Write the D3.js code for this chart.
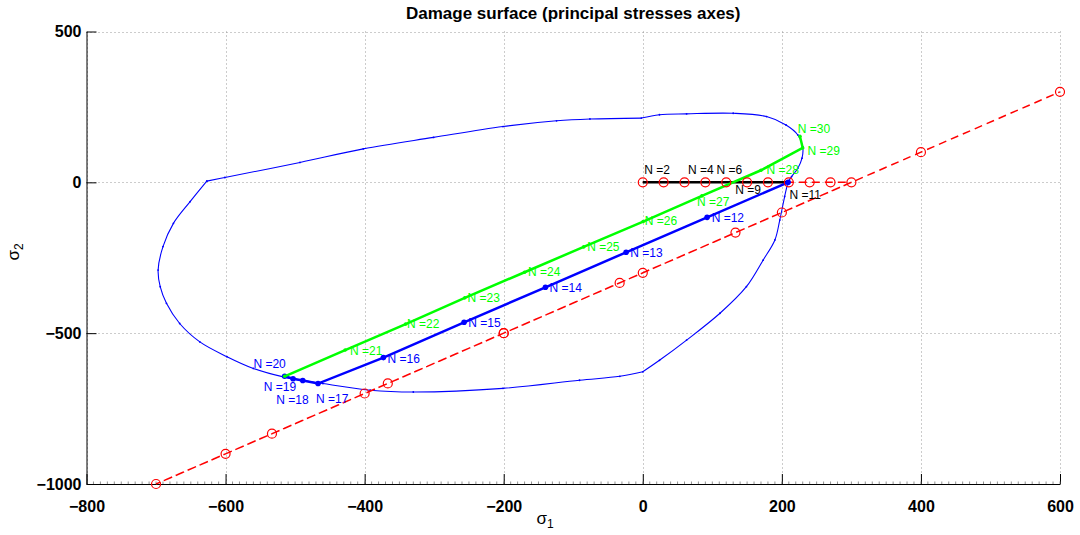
<!DOCTYPE html>
<html>
<meta charset='utf-8'>
<head>
<title>damage surface</title>
<script src='https://d3js.org/d3.v7.min.js'></script>
<style>
  body { margin: 0; background: #fff; }
  text { font-family: 'Liberation Sans', Arial, Helvetica, sans-serif; }
</style>
</head>
<body>
<div id='chart'></div>
<script>
// ---- data (principal stresses, sigma1 / sigma2) ----
var xTicks = [-800, -600, -400, -200, 0, 200, 400, 600]
var yTicks = [-1000, -500, 0, 500]

// damage surface
var surfS1 = [-627, -601, -493, -402, -301, -201, -124, -76, -2, 24, 63, 130, 178, 206, 223, 230, 229, 223, 214, 209,
              204, 197, 190, 173, 149, 111, 63, 24, 0, -33, -91, -201, -330, -392, -460, -517, -560, -598, -637,
              -666, -685, -694, -697, -690, -675, -651, -627]
var surfS2 = [4, 16, 66, 111, 149, 185, 204, 210, 213, 224, 227, 229, 218, 190, 157, 118, 80, 47, 19, 2,
              -47, -125, -191, -258, -346, -434, -523, -590, -628, -643, -656, -683, -695, -689, -667, -645, -617, -578, -529,
              -468, -401, -346, -291, -213, -136, -64, 4]
// kinks of the contour (indexes into the arrays above)
var surfKinks = [0, 8, 19, 28, 46]

// imposed loading path (red circles)
var loadS1 = [0, 30, 60, 90, 120, 150, 180, 210, 240, 270, 300, 133.3, -33.3, -200, -366.7, -533.3, -700,
              -600, -400, -200, 0, 200, 400, 600]
var loadS2 = [0, 0, 0, 0, 0, 0, 0, 0, 0, 0, 0, -166.7, -333.3, -500, -666.7, -833.3, -1000,
              -900, -700, -500, -300, -100, 100, 300]

// computed stress path, steps N=1..11 (black)
var blackS1 = [0, 30, 60, 90, 120, 150, 180, 209]
var blackS2 = [0, 0, 0, 0, 0, 0, 0, 0]
// steps N=11..20 (blue)
var blueS1 = [209, 92.5, -24, -140, -257, -373, -467, -489, -503, -515]
var blueS2 = [0, -116, -232, -348, -464, -581, -667, -657, -651, -643]
// steps N=20..30 (green)
var greenS1 = [-515, -428, -341, -256, -170, -85, 0.5, 85, 170, 230, 226]
var greenS2 = [-643, -556, -470, -383, -298, -214, -130, -45, 40, 114, 153]

// step labels
var labText = ['N =2', 'N =4', 'N =6', 'N =9', 'N =11',
               'N =12', 'N =13', 'N =14', 'N =15', 'N =16', 'N =17', 'N =18', 'N =19', 'N =20',
               'N =21', 'N =22', 'N =23', 'N =24', 'N =25', 'N =26', 'N =27', 'N =28', 'N =29', 'N =30']
var labS1 = [2, 65, 106, 133, 211,
             99, -18, -134, -251, -367, -470, -527, -545, -560,
             -421, -339, -252, -165, -80, 3, 78, 178, 237, 223]
var labS2 = [43, 43, 43, -25, -40,
             -116, -232, -348, -465, -586, -716, -722, -679, -602,
             -559, -470, -384, -298, -213, -127, -64, 41, 104, 179]
var labColor = ['k', 'k', 'k', 'k', 'k',
                'b', 'b', 'b', 'b', 'b', 'b', 'b', 'b', 'b',
                'g', 'g', 'g', 'g', 'g', 'g', 'g', 'g', 'g', 'g']

var colors = {k: '#000000', b: '#0000ff', g: '#00ff00', r: '#ff0000'}

function zip(a, b) { return a.map(function(v, i) { return [v, b[i]] }) }

// ---- layout ----
var W = 1080, H = 535
var margin = {top: 31.5, right: 20, bottom: 51, left: 86.5}

var svg = d3.select('#chart').append('svg')
  .attr('width', W).attr('height', H)

var x = d3.scaleLinear().domain([-800, 600]).range([margin.left, 1060])
var y = d3.scaleLinear().domain([-1000, 500]).range([H - margin.bottom, margin.top])

var x0 = x.range()[0], x1 = x.range()[1], y0 = y.range()[0], y1 = y.range()[1]

// grid (dotted)
var grid = svg.append('g').attr('stroke', '#999').attr('stroke-width', 1).attr('stroke-dasharray', '1,3')
grid.selectAll('.gx').data(xTicks).enter().append('line')
  .attr('x1', function(d) { return Math.round(x(d)) + 0.5 }).attr('x2', function(d) { return Math.round(x(d)) + 0.5 })
  .attr('y1', y1).attr('y2', y0)
grid.selectAll('.gy').data(yTicks).enter().append('line')
  .attr('y1', function(d) { return Math.round(y(d)) + 0.5 }).attr('y2', function(d) { return Math.round(y(d)) + 0.5 })
  .attr('x1', x0).attr('x2', x1)

// axes
var xAxis = svg.append('g')
  .attr('transform', 'translate(0,' + y0 + ')')
  .call(d3.axisBottom(x).tickValues(xTicks).tickSizeInner(-10).tickSizeOuter(0).tickPadding(17)
    .tickFormat(function(d) { return d < 0 ? '\u2212' + (-d) : d }))
xAxis.select('.domain').attr('stroke', '#000')
// small ruler ticks along bottom axis
xAxis.append('g').selectAll('line').data(d3.range(-800, 601, 10)).enter().append('line')
  .attr('x1', function(d) { return x(d) }).attr('x2', function(d) { return x(d) })
  .attr('y1', 0).attr('y2', -2.5).attr('stroke', '#777').attr('stroke-width', 0.8)

var yAxis = svg.append('g')
  .attr('transform', 'translate(' + x0 + ',0)')
  .call(d3.axisLeft(y).tickValues(yTicks).tickSizeInner(-10).tickSizeOuter(0).tickPadding(5)
    .tickFormat(function(d) { return d < 0 ? '\u2212' + (-d) : d }))
yAxis.select('.domain').attr('stroke', '#000')

svg.selectAll('.tick text')
  .attr('font-family', "'Liberation Sans', Arial, sans-serif")
  .attr('font-size', 16).attr('font-weight', 'bold').attr('fill', '#000')
svg.selectAll('.tick line').attr('stroke', '#000')

// clip to axes box
svg.append('clipPath').attr('id', 'box').append('rect')
  .attr('x', x0 - 6).attr('y', y1 - 6).attr('width', x1 - x0 + 12).attr('height', y0 - y1 + 12)
var plot = svg.append('g').attr('clip-path', 'url(#box)')

var line = d3.line().x(function(d) { return x(d[0]) }).y(function(d) { return y(d[1]) })
var smooth = d3.line().curve(d3.curveCatmullRom.alpha(0.5))
  .x(function(d) { return x(d[0]) }).y(function(d) { return y(d[1]) })

// damage surface, smooth between kinks
var surf = zip(surfS1, surfS2)
for (var k = 0; k < surfKinks.length - 1; k++) {
  plot.append('path').datum(surf.slice(surfKinks[k], surfKinks[k + 1] + 1))
    .attr('d', smooth).attr('fill', 'none').attr('stroke', colors.b).attr('stroke-width', 1.1)
}
plot.append('g').selectAll('circle').data(surf).enter().append('circle')
  .attr('cx', function(d) { return x(d[0]) }).attr('cy', function(d) { return y(d[1]) })
  .attr('r', 0.9).attr('fill', colors.b)

// loading path, dashed line
var load = zip(loadS1, loadS2)
plot.append('path').datum(load)
  .attr('d', line).attr('fill', 'none').attr('stroke', colors.r).attr('stroke-width', 1.5)
  .attr('stroke-dasharray', '8,5')

// computed paths
var black = zip(blackS1, blackS2), blue = zip(blueS1, blueS2), green = zip(greenS1, greenS2)
plot.append('path').datum(black)
  .attr('d', line).attr('fill', 'none').attr('stroke', colors.k).attr('stroke-width', 2.5)
plot.append('path').datum(blue)
  .attr('d', line).attr('fill', 'none').attr('stroke', colors.b).attr('stroke-width', 2.5)
plot.append('g').selectAll('circle').data(blue).enter().append('circle')
  .attr('cx', function(d) { return x(d[0]) }).attr('cy', function(d) { return y(d[1]) })
  .attr('r', 2.8).attr('fill', colors.b)
plot.append('path').datum(green)
  .attr('d', line).attr('fill', 'none').attr('stroke', colors.g).attr('stroke-width', 2.5)
plot.append('g').selectAll('circle').data(green).enter().append('circle')
  .attr('cx', function(d) { return x(d[0]) }).attr('cy', function(d) { return y(d[1]) })
  .attr('r', 1.8).attr('fill', colors.g)

// loading circles on top
plot.append('g').selectAll('circle').data(load).enter().append('circle')
  .attr('cx', function(d) { return x(d[0]) }).attr('cy', function(d) { return y(d[1]) })
  .attr('r', 4.5).attr('fill', 'none').attr('stroke', colors.r).attr('stroke-width', 1.2)

// step labels
svg.append('g').selectAll('text').data(labText).enter().append('text')
  .attr('x', function(d, i) { return x(labS1[i]) })
  .attr('y', function(d, i) { return y(labS2[i]) })
  .attr('dy', '0.35em')
  .attr('font-size', 12)
  .attr('fill', function(d, i) { return colors[labColor[i]] })
  .text(function(d) { return d })

// title and axis labels
svg.append('text')
  .attr('x', (x0 + x1) / 2).attr('y', 19)
  .attr('text-anchor', 'middle').attr('font-size', 17).attr('font-weight', 'bold')
  .text('Damage surface (principal stresses axes)')

var xl = svg.append('text')
  .attr('x', 545).attr('y', 524).attr('text-anchor', 'middle').attr('font-size', 17)
xl.append('tspan').text('\u03c3')
xl.append('tspan').attr('font-size', 12).attr('dy', 4).text('1')

var yl = svg.append('text')
  .attr('transform', 'translate(19,' + 252 + ') rotate(-90)')
  .attr('text-anchor', 'middle').attr('font-size', 17)
yl.append('tspan').text('\u03c3')
yl.append('tspan').attr('font-size', 12).attr('dy', 4).text('2')
</script>
</body>
</html>
